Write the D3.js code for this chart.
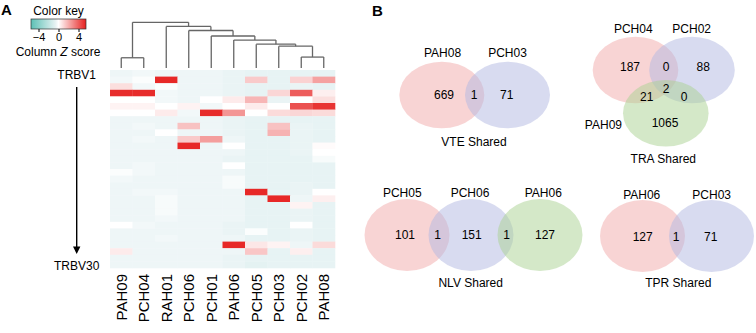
<!DOCTYPE html>
<html>
<head>
<meta charset="utf-8">
<script src="https://cdn.jsdelivr.net/npm/d3@7"></script>
<style>
  body { margin: 0; background: #fff; }
  svg { font-family: "Liberation Sans", Arial, sans-serif; }
</style>
</head>
<body>
<div id="chart"></div>
<script>
// heatmap columns, in dendrogram order
var samples = ["PAH09","PCH04","RAH01","PCH06","PCH01","PAH06","PCH05","PCH03","PCH02","PAH08"];
var rowCount = 30; // TRBV1 .. TRBV30
// column z scores, one row per TRBV family
var zScores = [
  [-0.4,-0.3,-0.4,-0.4,-0.4,-0.5,-0.6,-0.6,-0.6,-0.6],
  [-0.3,-0.1, 5.3,-0.4,-0.4,-0.5, 1.3,-0.6, 1.1, 2.3],
  [ 0.8,-0.3,-0.1,-0.4,-0.4,-0.5,-0.6,-0.6,-0.5,-0.6],
  [ 5.2, 5.2,-0.3,-0.4,-0.4,-0.5,-0.6, 1.0, 4.0, 0.4],
  [ 0.0, 0.0,-0.3,-0.4, 0.0, 0.5, 1.8,-0.5, 0.0, 0.8],
  [ 0.3, 0.3, 0.0, 0.3,-0.3, 0.0, 0.5, 0.0, 4.3, 5.0],
  [ 0.0, 0.0, 0.5,-0.3, 5.2, 2.6, 0.0, 0.9, 1.0, 0.9],
  [-0.4,-0.4,-0.4,-0.4,-0.4,-0.5,-0.6,-0.6,-0.6,-0.6],
  [-0.4,-0.3,-0.4, 1.5,-0.4,-0.5,-0.6, 1.5,-0.5,-0.6],
  [-0.4,-0.4, 0.0,-0.4,-0.4,-0.5,-0.6, 1.9,-0.5,-0.6],
  [-0.4,-0.3,-0.4, 1.3, 2.4,-0.4,-0.6,-0.6,-0.5,-0.6],
  [-0.4,-0.4,-0.4, 5.3,-0.4, 0.0,-0.6,-0.6,-0.5, 0.1],
  [-0.4,-0.4,-0.4,-0.4,-0.4,-0.4,-0.6,-0.6,-0.5, 0.0],
  [-0.4,-0.4,-0.4,-0.4,-0.4,-0.5,-0.6,-0.6,-0.6,-0.2],
  [-0.4,-0.3,-0.4,-0.4,-0.4, 0.0,-0.6,-0.6,-0.6,-0.6],
  [-0.1,-0.3,-0.4,-0.4,-0.4,-0.4,-0.6,-0.6,-0.6,-0.6],
  [-0.3,-0.4,-0.4,-0.4,-0.4,-0.2,-0.6,-0.6,-0.6,-0.6],
  [-0.4,-0.4,-0.4,-0.4,-0.4,-0.2,-0.6,-0.6,-0.5,-0.6],
  [-0.4,-0.3,-0.3,-0.4,-0.4,-0.4, 5.3,-0.6,-0.5, 0.0],
  [-0.4,-0.4,-0.2,-0.4,-0.4,-0.4,-0.6, 5.3,-0.4, 0.4],
  [-0.4,-0.4,-0.2,-0.4,-0.4,-0.4,-0.6,-0.6, 0.3,-0.6],
  [-0.4,-0.4,-0.2,-0.4,-0.4,-0.4,-0.6,-0.6,-0.5,-0.6],
  [-0.4,-0.4,-0.3,-0.4,-0.4,-0.4,-0.6,-0.6,-0.5,-0.6],
  [ 0.0,-0.3,-0.4,-0.4,-0.4,-0.5,-0.6,-0.6, 0.0,-0.6],
  [-0.4,-0.4,-0.4,-0.4,-0.4,-0.5,-0.1,-0.6,-0.5,-0.6],
  [-0.4,-0.4,-0.3,-0.4,-0.4,-0.4,-0.6,-0.6,-0.5,-0.6],
  [-0.4,-0.4,-0.4,-0.4,-0.4, 5.3, 0.6, 0.3,-0.4, 0.9],
  [ 0.5,-0.4,-0.4,-0.4,-0.4,-0.4, 1.4,-0.6, 0.4,-0.6],
  [-0.4,-0.4,-0.4,-0.4,-0.4,-0.5,-0.6,-0.6,-0.6,-0.6],
  [-0.4,-0.4,-0.4,-0.4,-0.4,-0.5,-0.7,-0.6,-0.6,-0.6]
];
var keyTicks = [-4, 0, 4];
// column dendrogram, merge heights in arbitrary distance units
var dendro = {h:10, children:[
  {h:2.24, children:[{name:"PAH09"},{name:"PCH04"}]},
  {h:9.1, children:[{name:"RAH01"},
    {h:8.21, children:[{name:"PCH06"},
      {h:7.0, children:[{name:"PCH01"},
        {h:6.11, children:[{name:"PAH06"},
          {h:5.21, children:[{name:"PCH05"},
            {h:4.77, children:[{name:"PCH03"},
              {h:2.39, children:[{name:"PCH02"},{name:"PAH08"}]}]}]}]}]}]}]}
]};

// venn panels
var vennTitles = ["VTE Shared","TRA Shared","NLV Shared","TPR Shared"];
var vennSets = [["PAH08","PCH03"],["PCH04","PCH02","PAH09"],["PCH05","PCH06","PAH06"],["PAH06","PCH03"]];
var vennCounts = [[669,1,71],[187,0,88,21,2,0,1065],[101,1,151,1,127],[127,1,71]];
var vennColors = ["#f1a9a9","#b1b7e1","#a9d191"];

var svg = d3.select("#chart").append("svg")
  .attr("width", 756)
  .attr("height", 333);

svg.append("text").attr("x",1).attr("y",15).attr("font-size","15px").attr("font-weight","bold").text("A");
svg.append("text").attr("x",372).attr("y",16).attr("font-size","15px").attr("font-weight","bold").text("B");

// ---- heatmap ----
var hm = {left:110, right:335, top:70, bottom:268};
var xscale = d3.scaleBand().domain(samples).range([hm.left, hm.right]);
var yscale = d3.scaleBand().domain(d3.range(rowCount)).range([hm.top, hm.bottom]);
var color = d3.scaleLinear()
  .domain([-5.5, -0.5, 0, 5.5])
  .range(["#5cc0b5","#eaf4f5","#ffffff","#e6201f"])
  .clamp(true);

var cells = [];
zScores.forEach(function(row, r){
  row.forEach(function(v, c){ cells.push({r:r, s:samples[c], v:v}); });
});
svg.append("g").selectAll("rect")
  .data(cells).enter()
  .append("rect")
  .attr("x", function(d){ return xscale(d.s); })
  .attr("y", function(d){ return yscale(d.r); })
  .attr("width", xscale.bandwidth()+0.3)
  .attr("height", yscale.bandwidth()+0.3)
  .attr("fill", function(d){ return color(d.v); });

// column labels
svg.append("g").selectAll("text")
  .data(samples).enter()
  .append("text")
  .attr("transform", function(d){ return "translate(" + (xscale(d)+xscale.bandwidth()/2) + ",274) rotate(-90)"; })
  .attr("text-anchor","end")
  .attr("dy","0.36em")
  .attr("font-size","15px")
  .text(function(d){ return d; });

// row direction arrow
svg.append("text").attr("x",76.7).attr("y",79).attr("text-anchor","middle").attr("font-size","12px").text("TRBV1");
svg.append("text").attr("x",76.7).attr("y",269.5).attr("text-anchor","middle").attr("font-size","12px").text("TRBV30");
svg.append("line").attr("x1",76.7).attr("x2",76.7).attr("y1",87).attr("y2",248)
  .attr("stroke","#000").attr("stroke-width",1.4);
svg.append("path").attr("d","M73,246.5L80.4,246.5L76.7,254Z").attr("fill","#000");

// dendrogram
var root = d3.hierarchy(dendro);
var dy = d3.scaleLinear().domain([0,10]).range([68,22.3]);
root.eachAfter(function(n){
  if(n.children){ n.cx = d3.mean(n.children, function(c){ return c.cx; }); }
  else { n.cx = xscale(n.data.name) + xscale.bandwidth()/2; }
});
var dendroLines = [];
root.each(function(n){
  if(!n.children) return;
  var y0 = dy(n.data.h);
  dendroLines.push([[n.children[0].cx, y0],[n.children[1].cx, y0]]);
  n.children.forEach(function(c){
    dendroLines.push([[c.cx, y0],[c.cx, dy(c.data.h || 0)]]);
  });
});
svg.append("g").selectAll("path")
  .data(dendroLines).enter()
  .append("path")
  .attr("d", d3.line())
  .attr("fill","none")
  .attr("stroke","#666")
  .attr("stroke-width",1.3);

// color key
var kx = d3.scaleLinear().domain([-5.5,5.5]).range([31,86]);
var grad = svg.append("defs").append("linearGradient").attr("id","keygrad");
d3.range(0, 1.01, 0.05).forEach(function(t){
  grad.append("stop").attr("offset", t).attr("stop-color", color(-5.5 + 11*t));
});
svg.append("text").attr("x",58.5).attr("y",15).attr("text-anchor","middle").attr("font-size","12px").text("Color key");
svg.append("rect").attr("x",kx(-5.5)).attr("y",19).attr("width",kx(5.5)-kx(-5.5)).attr("height",10)
  .attr("fill","url(#keygrad)").attr("stroke","#333").attr("stroke-width",0.7);
var keyAxis = svg.append("g").attr("transform","translate(0,29)")
  .call(d3.axisBottom(kx).tickValues(keyTicks).tickSize(3).tickPadding(2).tickFormat(d3.format("")));
keyAxis.select(".domain").remove();
keyAxis.selectAll("text").attr("font-size","11px").attr("font-family","Liberation Sans, Arial")
  .attr("dy","0.62em").attr("fill","#000");
var zt = svg.append("text").attr("x",58).attr("y",55.5).attr("text-anchor","middle").attr("font-size","12px");
zt.append("tspan").text("Column ");
zt.append("tspan").attr("font-style","italic").text("Z");
zt.append("tspan").text(" score");

// ---- venn diagrams ----
// geometry per panel: ellipses, set label spots, count spots, title spot
var vennLayout = [
  {ell:[[441.8,95],[507.5,95]], rx:42.5, ry:33.3,
   lab:[[442.5,56.7,"middle"],[507.5,56.7,"middle"]],
   num:[[444,95],[474,95],[506.7,95]], title:[474,145.7]},
  {ell:[[635.5,70],[692,70],[665.8,113.3]], rx:42.8, ry:33.3,
   lab:[[633.3,33.3,"middle"],[691.7,33.3,"middle"],[622,129.3,"end"]],
   num:[[630,66.7],[666,66.7],[703.3,66.7],[646.7,96.7],[666,88.3],[684,96.7],[665,122.7]], title:[663.3,163.3]},
  {ell:[[407,235],[471,235],[540,235]], rx:42.5, ry:36,
   lab:[[402.3,196.7,"middle"],[470,196.7,"middle"],[543.3,196.7,"middle"]],
   num:[[405,234.5],[437.7,234.5],[471.7,234.5],[506.7,234.5],[545,234.5]], title:[470.7,287]},
  {ell:[[642.5,236],[711.5,236]], rx:42.5, ry:36,
   lab:[[641.7,199,"middle"],[711.7,199,"middle"]],
   num:[[642.7,236.5],[676,236.5],[710.7,236.5]], title:[678.3,287]}
];

vennTitles.forEach(function(title, i){
  var L = vennLayout[i];
  var g = svg.append("g");
  g.selectAll("ellipse")
    .data(vennSets[i]).enter()
    .append("ellipse")
    .attr("cx", function(d,j){ return L.ell[j][0]; })
    .attr("cy", function(d,j){ return L.ell[j][1]; })
    .attr("rx", L.rx).attr("ry", L.ry)
    .attr("fill", function(d,j){ return vennColors[j]; })
    .attr("fill-opacity", 0.5);
  g.selectAll("text.set")
    .data(vennSets[i]).enter()
    .append("text").attr("class","set")
    .attr("x", function(d,j){ return L.lab[j][0]; })
    .attr("y", function(d,j){ return L.lab[j][1]; })
    .attr("text-anchor", function(d,j){ return L.lab[j][2]; })
    .attr("font-size","12px")
    .text(function(d){ return d; });
  g.selectAll("text.num")
    .data(vennCounts[i]).enter()
    .append("text").attr("class","num")
    .attr("x", function(d,j){ return L.num[j][0]; })
    .attr("y", function(d,j){ return L.num[j][1]; })
    .attr("dy","0.36em")
    .attr("text-anchor","middle")
    .attr("font-size","12px")
    .text(function(d){ return d; });
  g.append("text")
    .attr("x", L.title[0]).attr("y", L.title[1])
    .attr("text-anchor","middle")
    .attr("font-size","12px")
    .text(title);
});
</script>
</body>
</html>
